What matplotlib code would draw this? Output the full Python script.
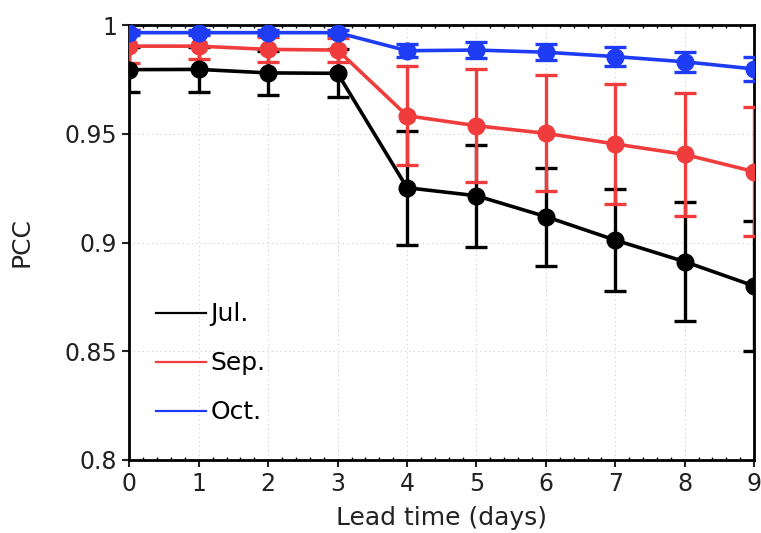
import matplotlib
matplotlib.use("Agg")
import matplotlib.pyplot as plt
import matplotlib.ticker as mticker
import numpy as np

plt.rcParams.update({
    "font.family": "DejaVu Sans",
    "axes.unicode_minus": False,
})

# --- Data ---
lead_days = [0, 1, 2, 3, 4, 5, 6, 7, 8, 9]

jul_pcc = [0.9795, 0.9796, 0.9780, 0.9778, 0.9252, 0.9215, 0.9119, 0.9011, 0.8912, 0.8800]
jul_err = [0.0104, 0.0103, 0.0102, 0.0110, 0.0262, 0.0234, 0.0225, 0.0236, 0.0274, 0.0300]

sep_pcc = [0.9903, 0.9903, 0.9888, 0.9885, 0.9583, 0.9537, 0.9502, 0.9453, 0.9405, 0.9326]
sep_err = [0.0076, 0.0060, 0.0058, 0.0055, 0.0228, 0.0260, 0.0267, 0.0276, 0.0284, 0.0295]

oct_pcc = [0.9965, 0.9965, 0.9965, 0.9965, 0.9882, 0.9885, 0.9875, 0.9855, 0.9831, 0.9798]
oct_err = [0.0010, 0.0010, 0.0010, 0.0010, 0.0030, 0.0035, 0.0037, 0.0045, 0.0047, 0.0054]

series = [
    ("Jul.", jul_pcc, jul_err, "#000000"),
    ("Sep.", sep_pcc, sep_err, "#f03c3c"),
    ("Oct.", oct_pcc, oct_err, "#1f3cf5"),
]

y_ticks = [0.8, 0.85, 0.9, 0.95, 1.0]
y_ticklabels = ["0.8", "0.85", "0.9", "0.95", "1"]

# --- Plot ---
fig = plt.figure(figsize=(7.61, 5.33), dpi=100)
ax = fig.add_axes([0.170, 0.137, 0.821, 0.816])

x = np.array(lead_days)
for name, vals, errs, color in series:
    ax.errorbar(x, vals, yerr=errs, color=color, lw=2.6, marker="o", ms=12,
                elinewidth=2.4, capsize=8, capthick=2.4, zorder=3)
    # legend-only line (thin, no marker)
    ax.plot([], [], color=color, lw=1.6, label=name)

ax.set_xlim(0, 9)
ax.set_ylim(0.8, 1.0)
ax.set_xticks(lead_days)
ax.set_yticks(y_ticks)
ax.set_yticklabels(y_ticklabels)
ax.xaxis.set_minor_locator(mticker.MultipleLocator(0.2))

ax.tick_params(axis="both", which="major", direction="out", length=5, width=1.5,
               labelsize=17, colors="#222222", pad=4)
ax.tick_params(axis="x", which="minor", direction="in", length=2.5, width=1.0,
               top=True, bottom=True)

ax.grid(True, which="major", color="#cccccc", linestyle=(0, (1, 3)), linewidth=0.8)
ax.set_axisbelow(True)

for side in ["left", "bottom", "top", "right"]:
    ax.spines[side].set_linewidth(2)
    ax.spines[side].set_color("black")

ax.set_xlabel("Lead time (days)", fontsize=18, color="#222222", labelpad=7)
ax.set_ylabel("PCC", fontsize=18, color="#222222", labelpad=22)

leg = ax.legend(loc="lower left", bbox_to_anchor=(0.006, 0.03), frameon=False,
                fontsize=18, handlelength=2.0, handletextpad=0.2, labelspacing=1.0)

fig.savefig("out.png", dpi=100, facecolor="white")
